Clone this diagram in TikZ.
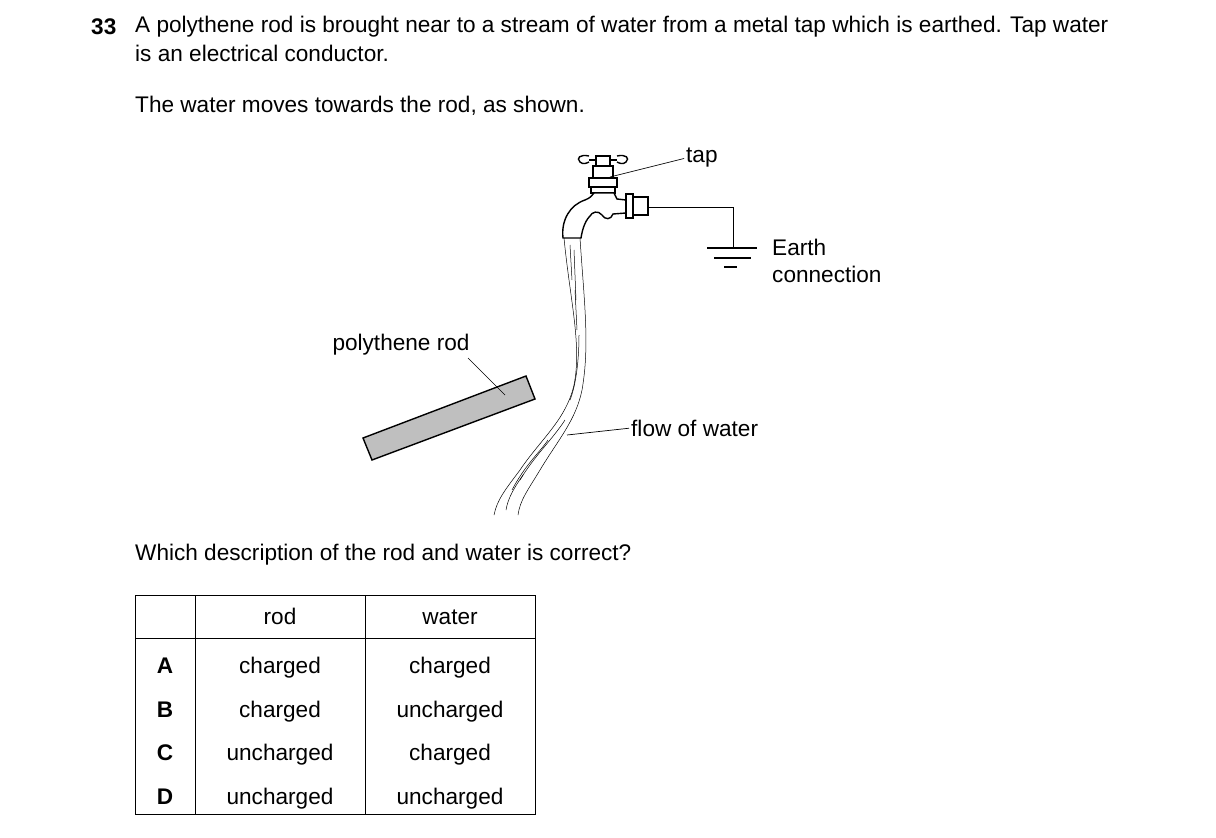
\documentclass[tikz,border=0pt]{standalone}
\usepackage{fontspec}
\setmainfont{Liberation Sans}
\begin{document}
\begin{tikzpicture}[x=1pt,y=-1pt,
  txt/.style={anchor=west,inner sep=0pt,font=\fontsize{22.6}{26}\selectfont},
  ctxt/.style={inner sep=0pt,font=\fontsize{22.6}{26}\selectfont},
  lead/.style={line width=0.7pt,shorten >=2pt},
  thick1/.style={line width=1.4pt},
  wline/.style={line width=0.5pt}]
\useasboundingbox (0,0) rectangle (1216,838);
% header text
\node[txt,font=\bfseries\fontsize{22.6}{26}\selectfont] (q) at (91,27) {33};
\node[txt] (l1) at (135,27) {A polythene rod is brought near to a stream of water from a metal tap which is earthed. Tap water};
\node[txt] (l2) at (135,53) {is an electrical conductor.};
\node[txt] (l3) at (135,106) {The water moves towards the rod, as shown.};
\node[txt] (l4) at (135,555) {Which description of the rod and water is correct?};
% tap handle
\draw[thick1] (589,160) -- (617,160);
\draw[thick1] (589,156) .. controls (580,154) and (576,158) .. (580,162) .. controls (583,165) and (587,163) .. (589,162);
\draw[thick1] (617,156) .. controls (626,154) and (630,158) .. (626,162) .. controls (623,165) and (619,163) .. (617,162);
\draw[thick1,fill=white] (596,156) rectangle (610,166);
\draw[thick1,fill=white] (593,166) rectangle (613,178);
\draw[thick1,fill=white] (589,178) rectangle (617,187);
\draw[thick1,fill=white] (591,187) rectangle (615,193);
% tap body and spout
\draw[thick1,fill=white] (594,193) -- (614,193) -- (617,199) -- (626,200) -- (626,213) -- (613,214)
  .. controls (611,220) and (605,220) .. (602,215) .. controls (598,210) and (592,212) .. (590,216)
  .. controls (584,222) and (582,232) .. (581,238) -- (563,238)
  .. controls (561,220) and (570,205) .. (585,200) .. controls (590,198) and (592,196) .. (594,193) -- cycle;
\draw[thick1,fill=white] (626,194) rectangle (633,218);
\draw[thick1,fill=white] (633,197) rectangle (648,215);
% earth
\coordinate (w0) at (648,207);
\coordinate (w1) at (733,207);
\coordinate (w2) at (733,248);
\draw[line width=1pt] (w0) -- (w1) -- (w2);
\draw[line width=1.2pt] (707,248) -- (757,248);
\draw[line width=1.2pt] (714,258) -- (751,258);
\draw[line width=1.2pt] (724,267) -- (737,267);
% water stream
\draw[wline] (564,238) .. controls (570,300) and (582,345) .. (574,385) .. controls (566,420) and (540,440) .. (520,470) .. controls (505,490) and (497,500) .. (494,515);
\draw[wline] (580,238) .. controls (584,300) and (590,345) .. (582,390) .. controls (576,420) and (558,440) .. (540,470) .. controls (528,490) and (520,500) .. (518,515);
\draw[wline] (570,245) -- (572,280);
\draw[wline] (575,290) -- (577,330);
\draw[wline] (574,250) -- (576,300);
\draw[wline] (579,335) .. controls (579,360) and (576,385) .. (570,400);
\draw[wline] (565,420) .. controls (552,440) and (535,455) .. (520,480);
\draw[wline] (548,440) .. controls (540,452) and (525,465) .. (512,490);
\draw[wline] (523,475) .. controls (514,488) and (508,498) .. (506,510);
% rod
\draw[thick1,fill=black!25] (363,438) -- (526,376) -- (535,399) -- (372,460) -- cycle;
% labels
\node[txt] (tap) at (686,158) {tap};
\coordinate (tapp) at (610,177);
\draw[lead] (tapp) -- (tap.west);
\node[txt] (e1) at (772,247) {Earth};
\node[txt] (e2) at (772,274) {connection};
\node[txt] (flow) at (631,428) {flow of water};
\coordinate (flowp) at (567,435);
\draw[lead] (flowp) -- (flow.west);
\node[ctxt] (rod) at (401,345) {polythene rod};
\coordinate (rodp) at (505,395);
\draw[lead,shorten >=0pt] (468,358) -- (rodp);
% table
\draw[line width=0.8pt] (135,595) rectangle (535,814);
\draw[line width=0.8pt] (195,595) -- (195,814);
\draw[line width=0.8pt] (365,595) -- (365,814);
\draw[line width=0.8pt] (135,638) -- (535,638);
\node[ctxt,anchor=base] (h1) at (280,624) {rod};
\node[ctxt,anchor=base] (h2) at (450,624) {water};
\foreach \l/\r/\w/\y in {A/charged/charged/673, B/charged/uncharged/717, C/uncharged/charged/760, D/uncharged/uncharged/804}{
  \node[ctxt,anchor=base,font=\bfseries\fontsize{22.6}{26}\selectfont] (L\l) at (165,\y) {\l};
  \node[ctxt,anchor=base] (R\l) at (280,\y) {\r};
  \node[ctxt,anchor=base] (W\l) at (450,\y) {\w};
}
\end{tikzpicture}
\end{document}
